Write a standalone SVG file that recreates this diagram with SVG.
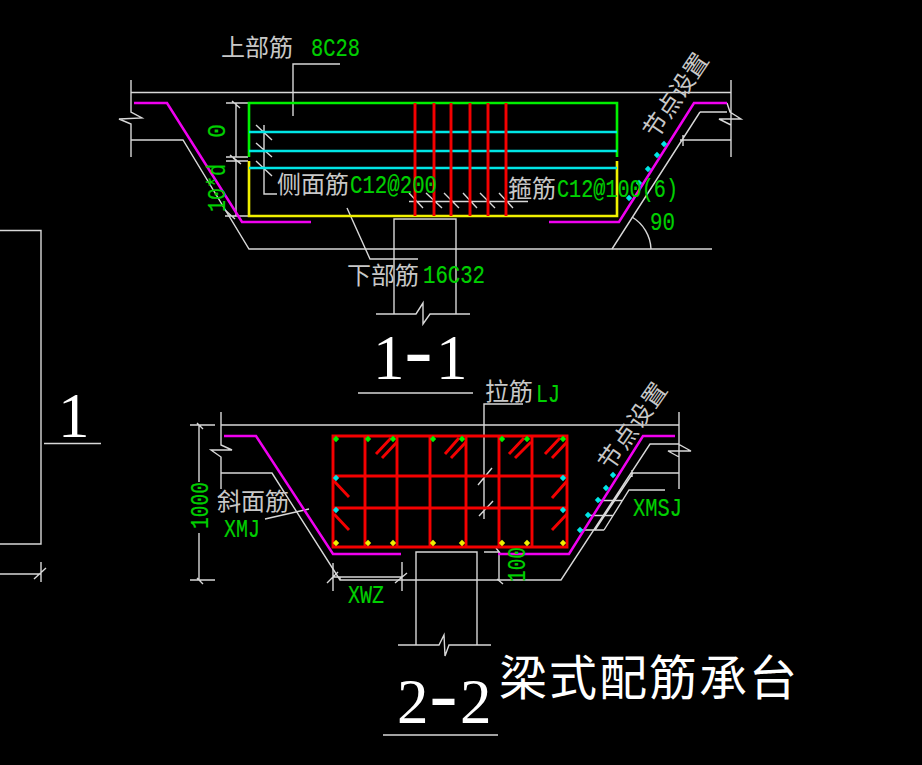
<svg xmlns="http://www.w3.org/2000/svg" width="922" height="765" viewBox="0 0 922 765">
<style>
.w{fill:none;stroke:#d8d8d8;stroke-width:1.4}
.m{fill:none;stroke:#f000f0;stroke-width:2.5}
.r{fill:none;stroke:#f40000;stroke-width:2.9}
.c{fill:none;stroke:#00e6e6;stroke-width:2.5}
.gl{fill:none;stroke:#00f000;stroke-width:2.6}
.yl{fill:none;stroke:#f0f000;stroke-width:2.6}
.g{fill:#00d000;stroke:#00d000;stroke-width:.2;font-family:"Liberation Mono",monospace;font-size:26px}
.t{fill:#c8c8c8;font-family:"Noto Sans CJK SC",sans-serif;font-size:24px}
.big{fill:#fff;font-family:"Liberation Serif",serif;font-size:63px}
.hy{font-family:"Liberation Mono",monospace;font-size:80px}
.h{fill:#fff;font-family:"Noto Sans CJK SC",sans-serif;font-size:48px}
.dc{fill:#00e6e6}.dg{fill:#00f000}.dy{fill:#f0f000}
</style>
<defs>
<path id="d" d="M0-3.200L3.200 0L0 3.200L-3.200 0Z"/>
</defs>
<rect width="922" height="765" fill="#000"/>

<g id="connectors">
<!-- section 1-1 outline -->
<path class="w" d="M131 92.500H731M131 80V112L142 118L119 119L131 124V157M131 140H183L249 249H712"/>
<path class="w" d="M731 80V157M700 112H727M612 249L700 112M727 103L730 112L741 119L719 119L731 125M731 140H680M683 135V146"/>
<path class="w" d="M394 250V219H456V314M394 250V314M376 314H416L423 303L423 324L430 314H470"/>
<!-- section 1-1 dimensions and leaders -->
<path class="w" d="M236 103V157M236 161V216M226 103H248M226 157H248M226 161H248M225 216H248M232 101L240 108M230 155L240 163M233 158L241 164M225 210L235 219"/>
<path class="w" d="M293 116V64H340M264 125V194H277M256 125L272 140M256 143L272 157M256 161L272 176"/>
<path class="w" d="M347 208L370 259H418M409 201.500H528M409 193L423 208M426 193L442 208M444 193L459 208M463 193L477 208M480 193L495 208M499 193L513 208"/>
<path class="w" d="M632 217A39 39 0 0 1 651 249"/>
<!-- section 2-2 outline -->
<path class="w" d="M221 425H679M221 412V445L232 450L211 450L221 457V489M221 473H272L340 580H561L650 444H675L678 444L691 451L668 451L679 457M679 412V489M679 473H633L595 530M632 470V477"/>
<path class="w" d="M416 580V552H477V645M416 580V645M398 645H439L444 635L445 656L449 645H491"/>
<!-- section 2-2 dimensions and leaders -->
<path class="w" d="M199 425V482M199 533V580M190 425H215M190 580H215M197 423L203 429M197 578L203 584"/>
<path class="w" d="M333 563V591M402 562V591M333 577H402M327 583L338 572M395 583L407 573M340 580V577"/>
<path class="w" d="M265 519L309 509M523 404H484V519M478 485L492 468M479 516L493 501"/>
<path class="w" d="M484 552H499V580M496 548L500 553M497 579L503 584"/>
<path class="w" d="M665 490H629L604 530M598 500.500H622M588 515.500H613M578 530H604"/>
<path class="w" d="M358 393H473M383 735H498M44 443.500H101M0 230.500H41V544H0M0 574H41M41 562V582M34 579L46 568"/>
</g>

<g id="beam-1-1">
<path class="gl" d="M249 157V103H617V157"/>
<path class="yl" d="M249 161V216H617V161"/>
<path class="c" d="M249 132H617M249 151H617M249 168H617"/>
<path class="r" d="M415 103V216M434 103V216M451 103V216M470 103V216M488 103V216M506 103V216"/>
<path class="m" d="M134 103H167L242 222H311M549 222H619L694 103H727"/>
<g class="dc"><use href="#d" x="664" y="144"/><use href="#d" x="657" y="155"/><use href="#d" x="648" y="169"/><use href="#d" x="639" y="183"/><use href="#d" x="629" y="198"/></g>
</g>

<g id="beam-2-2">
<path class="r" d="M333 436H567V547H333ZM365 436V547M397 436V547M430 436V547M466 436V547M499 436V547M532 436V547M333 476H567M333 508H567"/>
<path class="r" d="M376 454L391 438M382 458L397 442M445 454L459 438M451 458L466 442M509 454L524 438M515 458L531 442M545 454L560 438M552 458L567 442M334 481L349 497M334 514L349 530M552 498L567 481M552 530L567 514"/>
<path class="m" d="M224 436H256L333 554H401M498 554H569L643 436H675"/>
<g class="dg"><use href="#d" x="336" y="439"/><use href="#d" x="368" y="439"/><use href="#d" x="393" y="439"/><use href="#d" x="433" y="439"/><use href="#d" x="462" y="439"/><use href="#d" x="502" y="439"/><use href="#d" x="527" y="439"/><use href="#d" x="563" y="439"/></g>
<g class="dy"><use href="#d" x="336" y="543"/><use href="#d" x="368" y="543"/><use href="#d" x="393" y="543"/><use href="#d" x="433" y="543"/><use href="#d" x="462" y="543"/><use href="#d" x="502" y="543"/><use href="#d" x="527" y="543"/><use href="#d" x="563" y="543"/></g>
<g class="dc"><use href="#d" x="336" y="478"/><use href="#d" x="336" y="510"/><use href="#d" x="563" y="478"/><use href="#d" x="563" y="510"/><use href="#d" x="613" y="475"/><use href="#d" x="606" y="488"/><use href="#d" x="598" y="500"/><use href="#d" x="588" y="515"/><use href="#d" x="580" y="530"/></g>
</g>

<g id="labels">
<text class="t" x="221" y="56">上部筋</text>
<text class="g" x="311" y="56" textLength="49" lengthAdjust="spacingAndGlyphs">8C28</text>
<text class="t" x="277" y="193">侧面筋</text>
<text class="g" x="350" y="193" textLength="87" lengthAdjust="spacingAndGlyphs">C12@200</text>
<text class="t" x="508" y="197">箍筋</text>
<text class="g" x="557" y="197" textLength="121" lengthAdjust="spacingAndGlyphs">C12@100(6)</text>
<text class="t" x="347" y="284">下部筋</text>
<text class="g" x="423" y="283" textLength="62" lengthAdjust="spacingAndGlyphs">16C32</text>
<text class="g" x="650" y="230" textLength="25" lengthAdjust="spacingAndGlyphs">90</text>
<text class="g" transform="translate(225 138) rotate(-90)" textLength="14" lengthAdjust="spacingAndGlyphs">0</text>
<text class="g" transform="translate(225 212) rotate(-90)" textLength="48" lengthAdjust="spacingAndGlyphs">10*d</text>
<text class="t" transform="translate(656 140) rotate(-56)">节点设置</text>
<text class="t" x="485" y="400">拉筋</text>
<text class="g" x="536" y="402" textLength="24" lengthAdjust="spacingAndGlyphs">LJ</text>
<text class="t" x="217" y="510">斜面筋</text>
<text class="g" x="224" y="537" textLength="36" lengthAdjust="spacingAndGlyphs">XMJ</text>
<text class="g" x="348" y="603" textLength="36" lengthAdjust="spacingAndGlyphs">XWZ</text>
<text class="g" x="633" y="516" textLength="49" lengthAdjust="spacingAndGlyphs">XMSJ</text>
<text class="g" transform="translate(208 529) rotate(-90)" textLength="47" lengthAdjust="spacingAndGlyphs">1000</text>
<text class="g" transform="translate(525 582) rotate(-90)" textLength="35" lengthAdjust="spacingAndGlyphs">100</text>
<text class="t" letter-spacing="1.300" transform="translate(611 472) rotate(-55)">节点设置</text>
<text class="big" x="58" y="437">1</text>
<text class="big" x="373" y="379">1<tspan class="hy" x="394.500">-</tspan><tspan x="436">1</tspan></text>
<text class="big" x="397" y="723">2<tspan class="hy" x="419.500">-</tspan><tspan x="460">2</tspan></text>
<text class="h" x="499" y="695" letter-spacing="2">梁式配筋承台</text>
</g>
</svg>
